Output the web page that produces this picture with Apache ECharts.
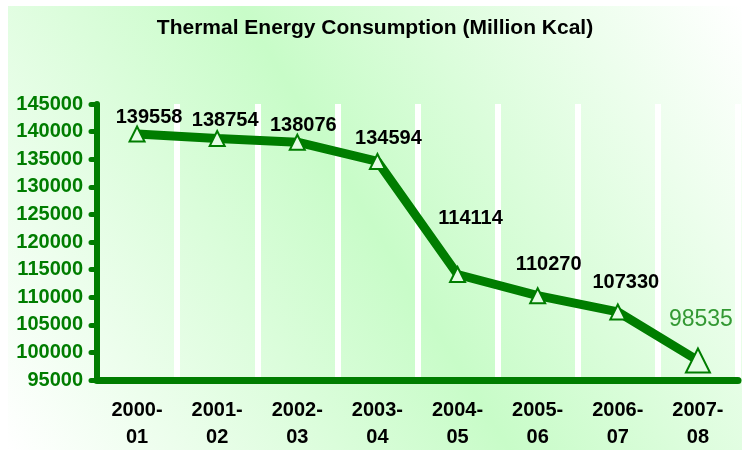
<!DOCTYPE html>
<html>
<head>
<meta charset="utf-8">
<script src="https://cdn.jsdelivr.net/npm/echarts@6/dist/echarts.min.js"></script>
<style>
    html, body { margin: 0; padding: 0; background: #fff; }
    #chart { width: 750px; height: 450px; }
</style>
</head>
<body>
<div id="chart"></div>
<script>
const years = ['2000-\n01', '2001-\n02', '2002-\n03', '2003-\n04', '2004-\n05', '2005-\n06', '2006-\n07', '2007-\n08']
const consumption = [139558, 138754, 138076, 134594, 114114, 110270, 107330, 98535]
// label nudges relative to each point
const labelOffsets = [[12, -17], [8, -18], [6, -17], [11, -23], [13, -56], [11, -31], [8, -29], [3, -41]]

const green = '#007d00'
const font = 'Liberation Sans, Arial, sans-serif'
const chart = echarts.init(document.getElementById('chart'))

const seriesData = consumption.map((v, i) => {
    const last = i === consumption.length - 1
    return {
        value: v,
        symbolSize: last ? 24 : 15,
        label: {
            offset: labelOffsets[i],
            color: last ? '#339933' : '#000',
            fontWeight: last ? 'normal' : 'bold',
            fontSize: last ? 23 : 20
        }
    }
})

const option = {
    animation: false,
    graphic: [{
        type: 'rect',
        z: -10,
        silent: true,
        shape: { x: 8, y: 6, width: 734, height: 444 },
        style: {
            fill: new echarts.graphic.LinearGradient(1, 0, 0, 1, [
                { offset: 0, color: '#ffffff' },
                { offset: 0.5, color: '#c8fcc8' },
                { offset: 1, color: '#ffffff' }
            ])
        }
    }],
    title: {
        text: 'Thermal Energy Consumption (Million Kcal)',
        left: 'center',
        top: 13,
        textStyle: {
            fontFamily: font,
            fontSize: 21,
            fontWeight: 'bold',
            color: '#000'
        }
    },
    grid: {
        left: 97,
        right: 12,
        top: 104,
        bottom: 70,
        outerBoundsMode: 'none'
    },
    xAxis: {
        type: 'category',
        data: years,
        boundaryGap: true,
        axisLine: {
            lineStyle: { color: green, width: 7, cap: 'round' }
        },
        axisTick: {
            length: 6,
            lineStyle: { color: green, width: 5, cap: 'round' }
        },
        splitLine: {
            show: true,
            lineStyle: { color: '#ffffff', width: 6 }
        },
        axisLabel: {
            margin: 17,
            color: '#000',
            fontFamily: font,
            fontSize: 20,
            fontWeight: 'bold',
            lineHeight: 27
        }
    },
    yAxis: {
        type: 'value',
        min: 95000,
        max: 145000,
        interval: 5000,
        axisLine: {
            show: true,
            lineStyle: { color: green, width: 6, cap: 'round' }
        },
        axisTick: {
            show: true,
            length: 6,
            lineStyle: { color: green, width: 5, cap: 'round' }
        },
        splitLine: { show: false },
        axisLabel: {
            margin: 14,
            color: green,
            fontFamily: font,
            fontSize: 20,
            fontWeight: 'bold',
            formatter: v => String(v)
        }
    },
    series: [{
        type: 'line',
        data: seriesData,
        symbol: 'triangle',
        lineStyle: { color: green, width: 9 },
        itemStyle: {
            color: '#e4fde4',
            borderColor: green,
            borderWidth: 2
        },
        label: {
            show: true,
            position: 'inside',
            fontFamily: font
        },
        z: 3
    }]
}

chart.setOption(option)
</script>
</body>
</html>
